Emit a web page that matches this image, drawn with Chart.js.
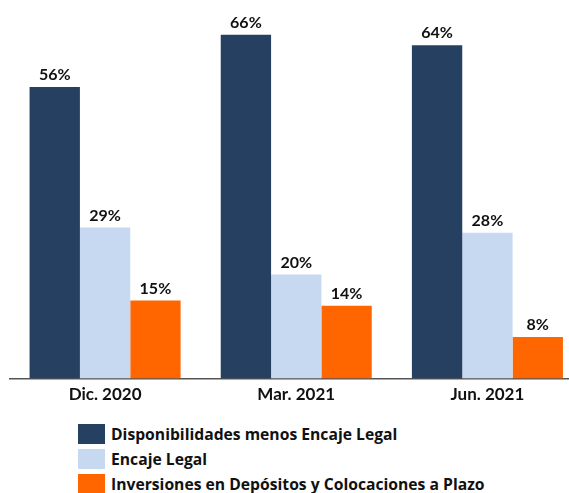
<!DOCTYPE html>
<html lang="es">
<head>
    <meta charset="UTF-8">
    <title>Disponibilidades</title>
    <script src="https://cdn.jsdelivr.net/npm/chart.js"></script>
    <style>
        body { margin: 0; width: 569px; height: 493px; overflow: hidden; background: #fff; position: relative; font-family: Lato, "Open Sans", sans-serif; }
        #box { position: absolute; left: 0; top: 0; width: 583px; height: 420px; }
        #leyenda { position: absolute; left: 78px; top: 424px; }
        .item { height: 25px; display: flex; align-items: flex-start; font-weight: bold; font-size: 15.7px; color: #111; font-family: "Open Sans", sans-serif; }
        .item span.sw { width: 27px; height: 20px; margin-right: 6px; display: inline-block; }
        .item span.tx { line-height: 20px; }
    </style>
</head>
<body>
    <div id="box"><canvas id="myChart"></canvas></div>
    <div id="leyenda"></div>
    <script>
    const labels = ['Dic. 2020', 'Mar. 2021', 'Jun. 2021'];
    const disponibilidades = [56, 66, 64];
    const encaje = [29, 20, 28];
    const inversiones = [15, 14, 8];
    const nombres = [
        'Disponibilidades menos Encaje Legal',
        'Encaje Legal',
        'Inversiones en Depósitos y Colocaciones a Plazo'
    ];
    const colores = ['#264061', '#C6D9F1', '#FF6600'];

    // etiquetas de porcentaje encima de cada barra
    const etiquetas = {
        id: 'etiquetas',
        afterDatasetsDraw(chart) {
            const ctx = chart.ctx;
            ctx.save();
            ctx.font = 'bold 16px Lato, "Open Sans", sans-serif';
            ctx.fillStyle = '#111';
            ctx.textAlign = 'center';
            ctx.textBaseline = 'bottom';
            chart.data.datasets.forEach((ds, i) => {
                chart.getDatasetMeta(i).data.forEach((bar, j) => {
                    ctx.fillText(ds.data[j] + '%', bar.x, bar.y - 4);
                });
            });
            ctx.restore();
        }
    };

    const data = {
        labels: labels,
        datasets: [
            { label: nombres[0], data: disponibilidades, backgroundColor: colores[0] },
            { label: nombres[1], data: encaje, backgroundColor: colores[1] },
            { label: nombres[2], data: inversiones, backgroundColor: colores[2] }
        ]
    };

    const config = {
        type: 'bar',
        data: data,
        options: {
            responsive: true,
            maintainAspectRatio: false,
            animation: false,
            layout: { padding: { left: 9.5, right: 0, top: 14, bottom: 9 } },
            datasets: { bar: { categoryPercentage: 0.79, barPercentage: 1.0 } },
            plugins: { legend: { display: false }, tooltip: { enabled: false } },
            scales: {
                x: {
                    grid: { display: false, drawTicks: false },
                    border: { display: true, color: '#555', width: 1.5 },
                    ticks: { color: '#111', padding: 6, font: { family: 'Lato', weight: 'bold', size: 17 } }
                },
                y: { display: false, min: 0, max: 70 }
            }
        },
        plugins: [etiquetas]
    };

    const myChart = new Chart(document.getElementById('myChart'), config);

    const leyenda = document.getElementById('leyenda');
    nombres.forEach((n, i) => {
        const div = document.createElement('div');
        div.className = 'item';
        div.innerHTML = '<span class="sw" style="background:' + colores[i] + '"></span><span class="tx">' + n + '</span>';
        leyenda.appendChild(div);
    });
    </script>
</body>
</html>
